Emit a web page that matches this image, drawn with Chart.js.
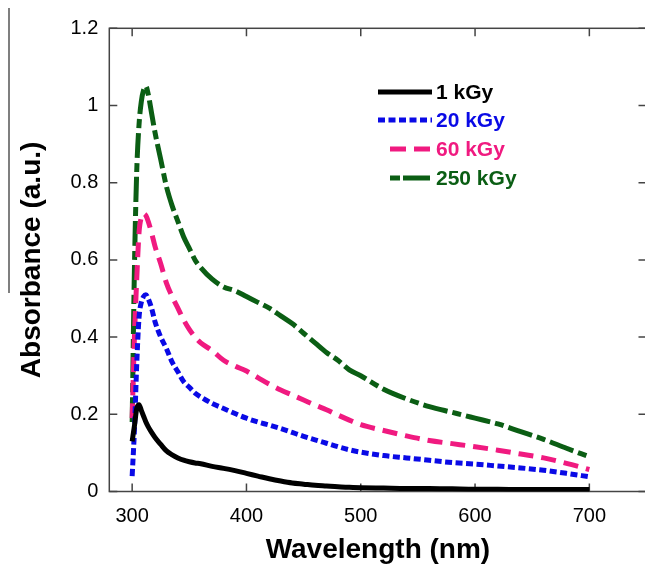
<!DOCTYPE html>
<html>
<head>
<meta charset="utf-8">
<script src="https://cdn.jsdelivr.net/npm/chart.js@4.4.1/dist/chart.umd.min.js"></script>
<style>
  html, body { margin: 0; padding: 0; background: #fff; overflow: hidden; }
  #wrap { width: 660px; height: 564px; }
</style>
</head>
<body>
<div id="wrap"><canvas id="chart" width="660" height="564"></canvas></div>
<script>
// wavelength grid (nm) shared by all spectra
const wavelength = [300, 302, 304, 306, 308, 310, 312, 314, 317, 320, 325, 330, 335, 340, 345, 350, 355, 360,
  370, 380, 390, 400, 410, 420, 430, 440, 450, 460, 470, 480, 490, 500, 520, 540, 560, 580, 600, 620, 640, 660, 680, 700];

const abs1kGy = [0.13, 0.17, 0.215, 0.225, 0.21, 0.195, 0.18, 0.168, 0.153, 0.14, 0.122, 0.105, 0.095, 0.087, 0.081, 0.077, 0.074, 0.072,
  0.065, 0.06, 0.054, 0.047, 0.04, 0.033, 0.027, 0.022, 0.019, 0.016, 0.014, 0.012, 0.011, 0.01, 0.009, 0.008, 0.008, 0.007, 0.006, 0.006, 0.005, 0.005, 0.005, 0.005];

const abs20kGy = [0.04, 0.16, 0.33, 0.45, 0.49, 0.505, 0.51, 0.5, 0.475, 0.44, 0.4, 0.37, 0.335, 0.31, 0.285, 0.27, 0.255, 0.245,
  0.228, 0.215, 0.202, 0.19, 0.18, 0.172, 0.163, 0.153, 0.143, 0.134, 0.125, 0.116, 0.108, 0.102, 0.093, 0.087, 0.081, 0.075, 0.071, 0.066, 0.061, 0.055, 0.047, 0.038];

const abs60kGy = [0.19, 0.4, 0.55, 0.67, 0.71, 0.72, 0.715, 0.7, 0.67, 0.635, 0.59, 0.54, 0.505, 0.475, 0.445, 0.42, 0.4, 0.385,
  0.365, 0.34, 0.325, 0.312, 0.295, 0.278, 0.263, 0.25, 0.237, 0.224, 0.212, 0.198, 0.185, 0.173, 0.158, 0.144, 0.132, 0.124, 0.116, 0.107, 0.097, 0.087, 0.073, 0.057];

const abs250kGy = [0.18, 0.58, 0.83, 0.95, 1.01, 1.04, 1.05, 1.03, 0.98, 0.93, 0.86, 0.79, 0.74, 0.7, 0.66, 0.63, 0.6, 0.58,
  0.55, 0.53, 0.52, 0.505, 0.49, 0.475, 0.455, 0.435, 0.41, 0.385, 0.36, 0.34, 0.315, 0.3, 0.265, 0.24, 0.22, 0.205, 0.19, 0.175, 0.155, 0.135, 0.112, 0.09];

const seriesLabels = ['1 kGy', '20 kGy', '60 kGy', '250 kGy'];
const xTicks = [300, 400, 500, 600, 700];
const yTicks = [0, 0.2, 0.4, 0.6, 0.8, 1, 1.2];
const yTickLabels = ['0', '0.2', '0.4', '0.6', '0.8', '1', '1.2'];

const FONT = "'Liberation Sans', Arial, sans-serif";

function pts(values) {
  return wavelength.map((w, i) => ({x: w, y: values[i]}));
}

function series(label, values, color, dash) {
  return {
    label: label,
    data: pts(values),
    borderColor: color,
    backgroundColor: color,
    borderWidth: 5,
    borderDash: dash,
    borderCapStyle: 'butt',
    pointRadius: 0,
    cubicInterpolationMode: 'monotone',
    fill: false
  };
}

// frame with inward ticks on all four sides, plus the stray crop line at the far left
const framePlugin = {
  id: 'frame',
  beforeDatasetsDraw(chart) {
    const {ctx, chartArea: a, scales} = chart;
    ctx.save();
    ctx.strokeStyle = '#444';
    ctx.lineWidth = 1.5;
    ctx.strokeRect(a.left, a.top, a.right - a.left, a.bottom - a.top);
    ctx.beginPath();
    scales.x.ticks.forEach(t => {
      const px = scales.x.getPixelForValue(t.value);
      ctx.moveTo(px, a.top); ctx.lineTo(px, a.top + 8);
      ctx.moveTo(px, a.bottom); ctx.lineTo(px, a.bottom - 8);
    });
    scales.y.ticks.forEach(t => {
      const py = scales.y.getPixelForValue(t.value);
      ctx.moveTo(a.left, py); ctx.lineTo(a.left + 8, py);
      ctx.moveTo(a.right, py); ctx.lineTo(a.right - 8, py);
    });
    ctx.stroke();
    ctx.strokeStyle = '#555';
    ctx.beginPath();
    ctx.moveTo(9, 8); ctx.lineTo(9, 293);
    ctx.stroke();
    ctx.restore();
  }
};

// legend drawn inside the plot, text coloured like its line
const legendPlugin = {
  id: 'inlineLegend',
  afterDatasetsDraw(chart) {
    const {ctx} = chart;
    const rows = [92, 120, 149, 178];
    const starts = [378, 378, 390, 390];
    ctx.save();
    chart.data.datasets.forEach((ds, i) => {
      ctx.strokeStyle = ds.borderColor;
      ctx.lineWidth = 5;
      ctx.setLineDash(ds.legendDash || ds.borderDash || []);
      ctx.beginPath();
      ctx.moveTo(starts[i], rows[i]);
      ctx.lineTo(432, rows[i]);
      ctx.stroke();
      ctx.setLineDash([]);
      ctx.fillStyle = ds.borderColor;
      ctx.font = 'bold 21px ' + FONT;
      ctx.textBaseline = 'middle';
      ctx.textAlign = 'left';
      ctx.fillText(ds.label, 436, rows[i] + 1);
    });
    ctx.restore();
  }
};

const datasets = [
  series(seriesLabels[0], abs1kGy, '#000000', []),
  series(seriesLabels[1], abs20kGy, '#0a0ae6', [7, 3.5]),
  series(seriesLabels[2], abs60kGy, '#f01a80', [15, 8]),
  series(seriesLabels[3], abs250kGy, '#0b5e14', [25, 5, 9, 5])
];
datasets[3].legendDash = [10, 3, 27, 3];
datasets[2].legendDash = [16, 8];

new Chart(document.getElementById('chart'), {
  type: 'line',
  data: {datasets: datasets},
  options: {
    responsive: false,
    animation: false,
    devicePixelRatio: 1,
    layout: {padding: {top: 28.3, right: 13.5, bottom: 0, left: 0}},
    plugins: {
      legend: {display: false},
      tooltip: {enabled: false}
    },
    scales: {
      x: {
        type: 'linear',
        min: 280,
        max: 750,
        afterBuildTicks: s => { s.ticks = xTicks.map(v => ({value: v})); },
        afterFit: s => { s.height = 72.5; },
        grid: {display: false, drawTicks: false},
        border: {display: false},
        ticks: {
          color: '#000',
          font: {family: FONT, size: 20},
          padding: 13,
          maxRotation: 0,
          autoSkip: false,
          callback: v => String(v)
        },
        title: {
          display: true,
          text: 'Wavelength (nm)',
          color: '#000',
          font: {family: FONT, size: 28, weight: 'bold', lineHeight: 1},
          padding: {top: 0, bottom: 0}
        }
      },
      y: {
        type: 'linear',
        min: 0,
        max: 1.2,
        afterBuildTicks: s => { s.ticks = yTicks.map(v => ({value: v})); },
        afterFit: s => { s.width = 109.3; },
        grid: {display: false, drawTicks: false},
        border: {display: false},
        ticks: {
          color: '#000',
          font: {family: FONT, size: 20},
          padding: 11,
          autoSkip: false,
          callback: (v, i) => yTickLabels[yTicks.indexOf(v)]
        },
        title: {
          display: true,
          text: 'Absorbance (a.u.)',
          color: '#000',
          font: {family: FONT, size: 28, weight: 'bold', lineHeight: 1},
          padding: {top: 18, bottom: 0}
        }
      }
    }
  },
  plugins: [framePlugin, legendPlugin]
});
</script>
</body>
</html>
